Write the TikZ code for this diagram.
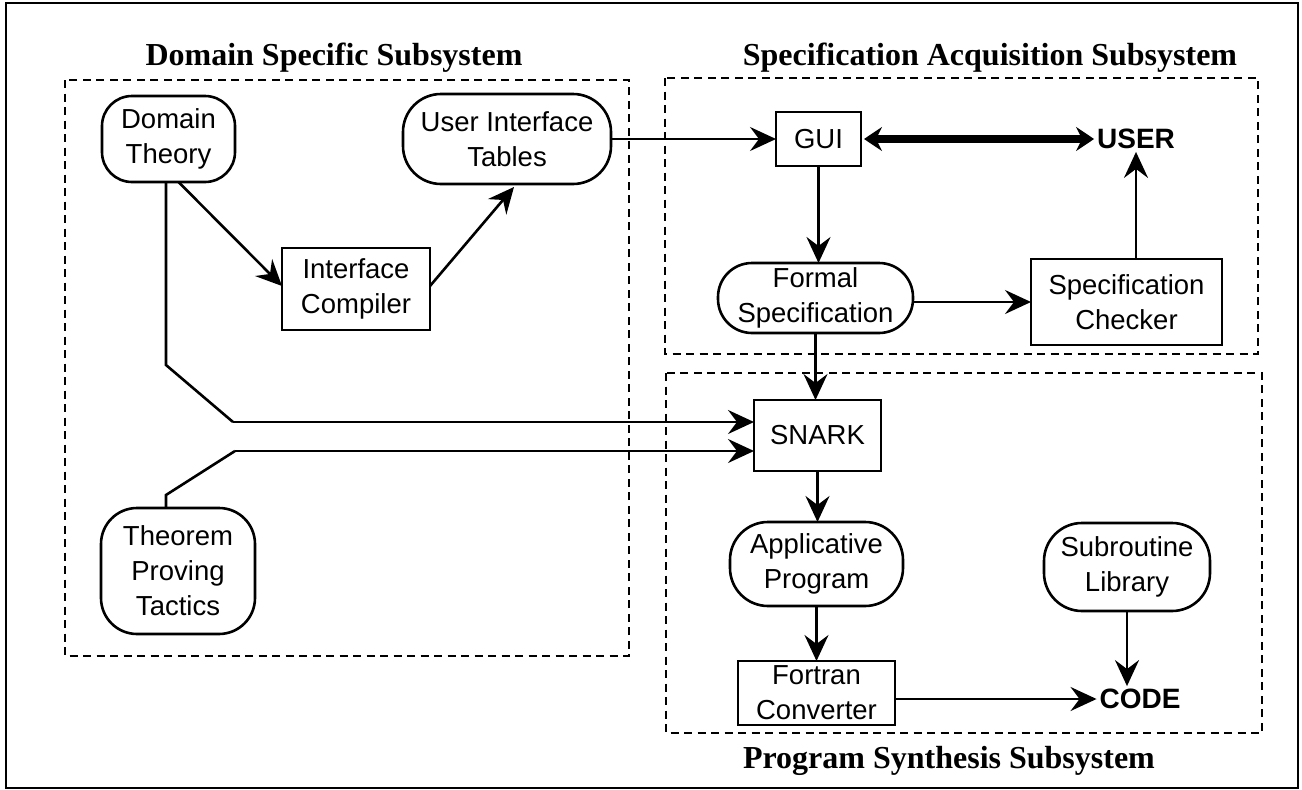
\documentclass[tikz,border=0pt]{standalone}
\usepackage{fontspec}
\setmainfont{Liberation Serif}
\setsansfont{Liberation Sans}
\usetikzlibrary{arrows.meta}
\begin{document}
\begin{tikzpicture}[x=1pt,y=-1pt,
  every node/.style={inner sep=0pt, outer sep=0pt},
  lbl/.style={font=\sffamily\fontsize{27.5}{35}\selectfont, align=center},
  sqbox/.style={lbl, draw, line width=2.6pt},
  rbox/.style={lbl, draw, line width=2.6pt, rounded corners=30pt},
  bigtxt/.style={font=\sffamily\bfseries\fontsize{28}{34}\selectfont},
  title/.style={font=\bfseries\fontsize{32}{38}\selectfont, anchor=base},
  region/.style={draw, line width=2.4pt, dash pattern=on 8pt off 5.5pt},
  arr/.style={line width=2.6pt, -{Stealth[length=26pt,width=24pt,inset=9pt]}},
  thick2/.style={line width=8pt, {Stealth[length=18pt,width=24pt,inset=6pt]}-{Stealth[length=18pt,width=24pt,inset=6pt]}}
]
\useasboundingbox (0,0) rectangle (1302,790);
\draw[line width=2.6pt] (6,3) rectangle (1298,788);

% regions
\draw[region] (65,80) rectangle (629,656);
\draw[region] (665,78) rectangle (1258,354);
\draw[region] (666,373) rectangle (1262,733);

\node[title] (t1) at (334,65) {Domain Specific Subsystem};
\node[title] (t2) at (990,65) {Specification Acquisition Subsystem};
\node[title] (t3) at (949,768) {Program Synthesis Subsystem};

% nodes
\node[rbox, minimum width=133pt, minimum height=86pt] (dt) at (168.5,139) {Domain\\Theory};
\node[rbox, minimum width=208pt, minimum height=90pt, rounded corners=38pt] (uit) at (507,139) {User Interface\\Tables};
\node[sqbox, minimum width=148pt, minimum height=82pt] (ic) at (356,289) {Interface\\Compiler};
\node[sqbox, minimum width=85pt, minimum height=54pt] (gui) at (818.5,139) {GUI};
\node[bigtxt, inner sep=3pt] (user) at (1136,139) {USER};
\node[rbox, minimum width=195pt, minimum height=70pt, rounded corners=34pt] (fs) at (815.5,298) {Formal\\Specification};
\node[sqbox, minimum width=191pt, minimum height=86pt] (sc) at (1126.5,302) {Specification\\Checker};
\node[sqbox, minimum width=127pt, minimum height=71pt] (snark) at (817.5,435.5) {SNARK};
\node[rbox, minimum width=173pt, minimum height=84pt, rounded corners=38pt] (ap) at (816.5,564) {Applicative\\Program};
\node[sqbox, minimum width=157pt, minimum height=64pt] (fc) at (816.5,693) {Fortran\\Converter};
\node[rbox, minimum width=166pt, minimum height=88pt, rounded corners=38pt] (sl) at (1127,567) {Subroutine\\Library};
\node[bigtxt, inner sep=3pt] (code) at (1140,699) {CODE};
\node[rbox, minimum width=154pt, minimum height=126pt, rounded corners=36pt] (tpt) at (178,571) {Theorem\\Proving\\Tactics};

% bend points
\coordinate (b1) at (166,365);
\coordinate (b2) at (233,422);
\coordinate (b3) at (166,495);
\coordinate (b4) at (235,451);

% connectors
\draw[arr] ([xshift=10pt]dt.south) -- ([yshift=3pt]ic.west);
\draw[arr] ([yshift=3pt]ic.east) -- ([xshift=7pt,yshift=-3pt]uit.south);
\draw[line width=2.6pt] ([xshift=-2.5pt]dt.south) -- (b1) -- (b2);
\draw[arr] (b2) -- ([yshift=13.5pt]snark.west);
\draw[line width=2.6pt] ([xshift=-12pt]tpt.north) -- (b3) -- (b4);
\draw[arr] (b4) -- ([yshift=-15.5pt]snark.west);
\draw[arr] (uit.east) -- (gui.west);
\draw[thick2] ([xshift=3pt]gui.east) -- (user.west);
\draw[arr] (gui.south) -- (gui.south |- fs.north);
\draw[arr] (sc.west -| fs.east) -- (sc.west);
\draw[arr] (sc.north -| user.south) -- (user.south);
\draw[arr] (fs.south) -- (fs.south |- snark.north);
\draw[arr] (snark.south) -- (snark.south |- ap.north);
\draw[arr] (ap.south) -- (ap.south |- fc.north);
\draw[arr] (code.west -| fc.east) -- (code.west);
\draw[arr] (sl.south) -- (sl.south |- code.north);
\end{tikzpicture}
\end{document}
